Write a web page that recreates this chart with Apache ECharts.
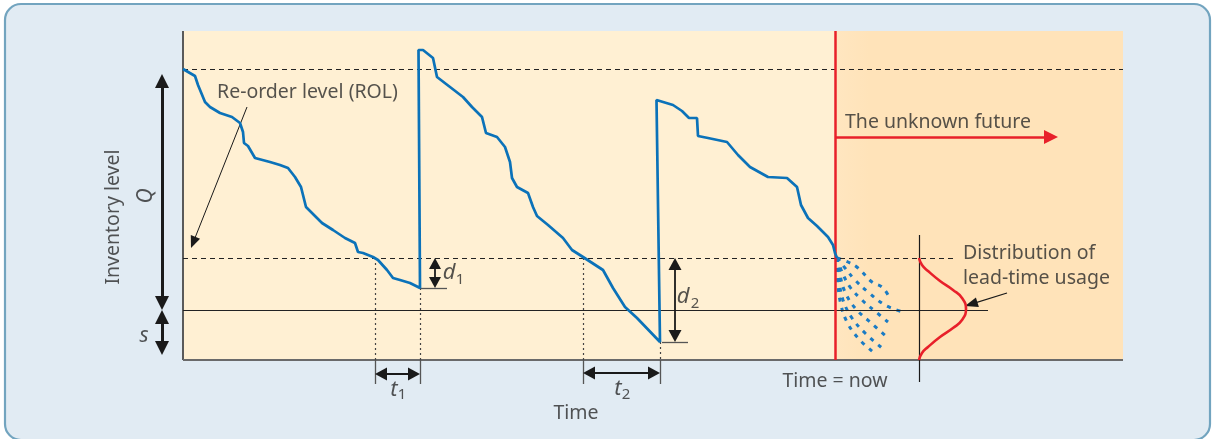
<!DOCTYPE html>
<html><head><meta charset="utf-8">
<script src="https://cdn.jsdelivr.net/npm/echarts@6/dist/echarts.min.js"></script>
<style>html,body{margin:0;padding:0;background:#fff;}#c{width:1214px;height:439px;}</style>
</head><body><div id="c"></div>
<script>
// ---- values (time units / inventory units) ----
const safetyStock = 50;      // s
const reorderLevel = 102;    // ROL
const maxLevel = 291;        // s + Q
const qTop = 286;
const timeNow = 652;
const timeEnd = 940;
const levelTop = 329;
const rolDashEnd = 770;
const safetyLineEnd = 805;

const cycle1 = [[0,291],[12,284],[15,275],[22,258],[27,253],[37,247],[49,243],[57,237],[60,228],[61,217],[65,214],[72,202],[87,198],[97,195],[105,192],[112,183],[118,173],[123,153],[129,147],[139,137],[150,130],[162,122],[172,117],[175,108],[180,107],[190,103],[195,100],[204,90],[210,82],[217,80],[227,77],[237,72]];
const cycle2 = [[235.5,310],[240,310],[250,302],[254,283],[267,273],[280,263],[289,253],[299,243],[303,227],[314,223],[322,213],[327,198],[329,182],[334,173],[345,167],[350,153],[354,144],[365,135],[380,122],[389,110],[400,103],[420,90],[430,72],[442,53],[454,42],[477,18]];
const cycle3 = [[473.5,260],[490,255],[499,249],[506,242],[514,242],[515,224],[525,222],[544,218],[555,205],[567,193],[585,183],[604,182],[614,173],[618,155],[625,142],[634,134],[645,123],[650,115],[652,107],[654,102]];

const future1 = [[654,102],[665,98],[675,92],[689,78],[699,73],[705,65]];
const future2 = [[654,102],[662,92],[672,80],[685,68],[702,55],[720,48]];
const future3 = [[654,102],[659,88],[667,73],[679,60],[693,48],[705,38]];
const future4 = [[654,102],[657,85],[662,68],[672,52],[687,38],[704,23]];
const future5 = [[654,102],[656,80],[660,60],[669,42],[682,27],[699,12]];
const future6 = [[654,102],[655,75],[658,55],[664,38],[675,22],[690,8]];

const distAxisTime = 736;
const leadTimeUsage = [[736,102],[739,95],[745,89],[757,79],[770,70],[779,62],[783,51],[779,40],[770,32],[757,23],[745,13],[739,7],[736,0]];

// reorder points / delivery points and shortfalls
const t1 = [192, 237];
const t2 = [400, 477];
const d1Low = 72;
const d2Low = 18;

const FONT = 'Noto Sans';
const INK = '#2a2a2a';

function seg(a, b, style, headA, headB) {
  const dx = b[0]-a[0], dy = b[1]-a[1], L = Math.hypot(dx, dy) || 1;
  const ux = dx/L, uy = dy/L;
  const pa = headA ? [a[0]+ux*headA[1]/2, a[1]+uy*headA[1]/2] : a;
  const pb = headB ? [b[0]-ux*headB[1]/2, b[1]-uy*headB[1]/2] : b;
  const ls = Object.assign({type:'solid', opacity:1}, style);
  return [
    {coord: pa, symbol: headA ? 'triangle' : 'none', symbolSize: headA || 0, lineStyle: ls, itemStyle:{color: ls.color}},
    {coord: pb, symbol: headB ? 'triangle' : 'none', symbolSize: headB || 0, itemStyle:{color: ls.color}}
  ];
}

const black = (w, type) => ({color:'#1a1a1a', width:w, type: type || 'solid'});
const grey = (w, type) => ({color:'#555', width:w, type: type || 'solid'});

const marks = [
  seg([0,0],[0,levelTop], {color:'#5a5a5a', width:2}),
  seg([0,0],[timeEnd,0], {color:'#6a6a6a', width:2}),
  seg([0,maxLevel],[timeEnd,maxLevel], {color:'#222', width:1.2, type:[5,4]}),
  seg([0,reorderLevel],[rolDashEnd,reorderLevel], {color:'#222', width:1.2, type:[5,4]}),
  seg([0,safetyStock],[safetyLineEnd,safetyStock], {color:'#222', width:1.2}),
  seg([t1[0],reorderLevel],[t1[0],0], {color:'#444', width:1.2, type:[2,3]}),
  seg([t1[1],d1Low],[t1[1],0], {color:'#444', width:1.2, type:[2,3]}),
  seg([t2[0],reorderLevel],[t2[0],0], {color:'#444', width:1.2, type:[2,3]}),
  seg([t2[1],d2Low],[t2[1],0], {color:'#444', width:1.2, type:[2,3]}),
  seg([t1[0],0],[t1[0],-24], grey(1.3)),
  seg([t1[1],0],[t1[1],-24], grey(1.3)),
  seg([t1[0],-14],[t1[1],-14], black(1.8), [13,12], [13,12]),
  seg([t2[0],0],[t2[0],-24], grey(1.3)),
  seg([t2[1],0],[t2[1],-24], grey(1.3)),
  seg([t2[0],-13],[t2[1],-13], black(1.8), [13,12], [13,12]),
  seg([t1[1],d1Low],[t1[1]+27,d1Low], grey(1.3)),
  seg([t1[1]+15,reorderLevel],[t1[1]+15,d1Low], black(1.8), [12,11], [12,11]),
  seg([t2[1]+2,d2Low],[t2[1]+28,d2Low], grey(1.3)),
  seg([t2[1]+15,reorderLevel],[t2[1]+15,d2Low], black(1.8), [13,12], [13,12]),
  seg([-21,safetyStock],[-21,qTop], black(3), [14,14], [14,14]),
  seg([-21,safetyStock],[-21,5], black(3), [14,14], [14,14]),
  seg([timeNow,0],[timeNow,levelTop], {color:'#e8202a', width:2.5}),
  seg([timeNow,223],[875,223], {color:'#e8202a', width:2.5}, null, [14,14]),
  seg([distAxisTime,125],[distAxisTime,-22], black(1.2)),
  seg([64,253],[8,112], black(1), null, [10,12]),
  seg([824,67],[782,54], black(1.2), null, [10,13])
];

const labels = [
  {p:[34,268], t:'Re-order level (ROL)', pos:'right'},
  {p:[662,238], t:'The unknown future', pos:'right'},
  {p:[780,107], t:'Distribution of', pos:'right'},
  {p:[780,82], t:'lead-time usage', pos:'right'},
  {p:[-70,143], t:'Inventory level', pos:'inside', rot:90},
  {p:[-37,164], t:'Q', pos:'inside', rot:90, it:true, fs:21},
  {p:[-39,24], t:'s', pos:'inside', it:true, fs:21},
  {p:[266,87], t:'d', pos:'inside', it:true, fs:22},
  {p:[277,80], t:'1', pos:'inside', fs:15},
  {p:[500,63], t:'d', pos:'inside', it:true, fs:22},
  {p:[512,56], t:'2', pos:'inside', fs:15},
  {p:[211,-30], t:'t', pos:'inside', it:true, fs:22},
  {p:[219,-35], t:'1', pos:'inside', fs:15},
  {p:[435,-29], t:'t', pos:'inside', it:true, fs:22},
  {p:[443,-35], t:'2', pos:'inside', fs:15},
  {p:[393,-53], t:'Time', pos:'inside'},
  {p:[652,-21], t:'Time = now', pos:'inside'}
];

const fanStyle = {color:'#1a7bc4', width:3, type:[4,6]};
const fans = [future1,future2,future3,future4,future5,future6].map((d)=>({
  type:'line', data:d, showSymbol:false, smooth:0.4, lineStyle:fanStyle, z:4, silent:true
}));

const chart = echarts.init(document.getElementById('c'), null, {renderer:'canvas'});
chart.setOption({
  animation:false,
  textStyle:{fontFamily:FONT},
  grid:{left:0,right:0,top:0,bottom:0},
  xAxis:{type:'value', min:-183, max:1031, show:false},
  yAxis:{type:'value', min:-79, max:360, show:false},
  graphic:[{type:'rect', z:-10, silent:true,
    shape:{x:5,y:4,width:1205,height:436,r:16},
    style:{fill:'#e1ebf3', stroke:'#72a4bf', lineWidth:2.2}}],
  series:[
    {type:'line', data:[], silent:true, z:1,
     markArea:{silent:true, data:[
       [{coord:[0,0], itemStyle:{color:'#fff0d3'}},{coord:[timeNow,levelTop]}],
       [{coord:[timeNow,0], itemStyle:{color:{type:'linear',x:0,y:0,x2:1,y2:0,colorStops:[{offset:0,color:'#ffe6c0'},{offset:0.12,color:'#ffe3b9'},{offset:1,color:'#ffe3b9'}]}}},{coord:[timeEnd,levelTop]}]
     ]}},
    {type:'line', data:cycle1.concat(cycle2, cycle3), showSymbol:false, z:5, silent:true,
     lineStyle:{color:'#0b72b9', width:2.7}},
    ...fans,
    {type:'line', data:leadTimeUsage, showSymbol:false, smooth:0.5, z:5, silent:true,
     lineStyle:{color:'#e8202a', width:2.6}},
    {type:'line', data:[], z:6, silent:true,
     markLine:{silent:true, animation:false, label:{show:false}, emphasis:{disabled:true},
       lineStyle:{type:'solid'}, data:marks}},
    {type:'scatter', symbolSize:0, z:10, silent:true,
     data:labels.map(l=>({value:l.p, label:{show:true, formatter:l.t, position:l.pos, distance:0,
       rotate:l.rot||0, color:INK, fontFamily:FONT, fontSize:l.fs||19.5, fontStyle:l.it?'italic':'normal'}}))}
  ]
});
</script></body></html>
